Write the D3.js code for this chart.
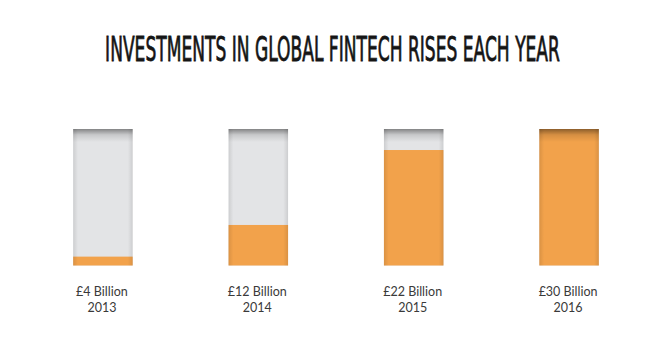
<!DOCTYPE html>
<html>
<head>
<meta charset="utf-8">
<script src="https://cdn.jsdelivr.net/npm/d3@7"></script>
<style>
  html, body { margin: 0; padding: 0; background: #ffffff; }
  svg { display: block; }
</style>
</head>
<body>
<svg id="chart" width="650" height="345"></svg>
<script>
// ---- data ----
const years = ["2013", "2014", "2015", "2016"];
const amounts = ["£4 Billion", "£12 Billion", "£22 Billion", "£30 Billion"];
const investmentBillions = [4, 12, 22, 30];
// visual fill level of each container (percent) (pictogram, not to scale)
const fillPercent = [6.5, 29.7, 84.6, 100];
const titleText = "INVESTMENTS IN GLOBAL FINTECH RISES EACH YEAR";

const svg = d3.select("#chart");
const W = 650, H = 345;

const x = d3.scaleBand().domain(years).range([25, 647]).paddingInner(0.617).paddingOuter(0.31);
const y = d3.scaleLinear().domain([0, 100]).range([265.5, 129]);

const defs = svg.append("defs");
const topShade = defs.append("linearGradient").attr("id", "topShade")
  .attr("x1", 0).attr("y1", 0).attr("x2", 0).attr("y2", 1);
topShade.append("stop").attr("offset", 0).attr("stop-color", "#000").attr("stop-opacity", 0.42);
topShade.append("stop").attr("offset", 0.45).attr("stop-color", "#000").attr("stop-opacity", 0.12);
topShade.append("stop").attr("offset", 1).attr("stop-color", "#000").attr("stop-opacity", 0);

const sideShade = defs.append("linearGradient").attr("id", "sideShade")
  .attr("x1", 0).attr("y1", 0).attr("x2", 1).attr("y2", 0);
sideShade.append("stop").attr("offset", 0).attr("stop-color", "#000").attr("stop-opacity", 0.10);
sideShade.append("stop").attr("offset", 0.08).attr("stop-color", "#000").attr("stop-opacity", 0);
sideShade.append("stop").attr("offset", 0.92).attr("stop-color", "#000").attr("stop-opacity", 0);
sideShade.append("stop").attr("offset", 1).attr("stop-color", "#000").attr("stop-opacity", 0.10);

// title (natural width measured, then narrowed horizontally to fit 455px)
const titleG = svg.append("g");
const title = titleG.append("text")
  .attr("x", 0).attr("y", 0)
  .attr("text-anchor", "middle")
  .attr("font-family", "'Liberation Sans Narrow', 'DejaVu Sans Condensed', sans-serif")
  .attr("font-size", 34)
  .attr("fill", "#151515")
  .attr("stroke", "#151515")
  .attr("stroke-width", 0.8)
  .text(titleText);
const natural = title.node().getComputedTextLength();
const sx = 455 / natural;
titleG.attr("transform", `translate(332.5,61) scale(${sx},1)`);

const g = svg.append("g");
const bars = g.selectAll("g.bar").data(years).join("g").attr("class", "bar");

// container (grey)
bars.append("rect")
  .attr("x", d => x(d)).attr("width", x.bandwidth())
  .attr("y", y(100)).attr("height", y(0) - y(100))
  .attr("fill", "#e3e4e6");

// orange fill
bars.append("rect")
  .attr("x", d => x(d)).attr("width", x.bandwidth())
  .attr("y", (d, i) => y(fillPercent[i]))
  .attr("height", (d, i) => y(0) - y(fillPercent[i]))
  .attr("fill", "#f2a24b");

// side shading
bars.append("rect")
  .attr("x", d => x(d)).attr("width", x.bandwidth())
  .attr("y", y(100)).attr("height", y(0) - y(100))
  .attr("fill", "url(#sideShade)");

// top shadow
bars.append("rect")
  .attr("x", d => x(d)).attr("width", x.bandwidth())
  .attr("y", y(100)).attr("height", 13)
  .attr("fill", "url(#topShade)");

// labels
const labels = g.selectAll("text.lbl").data(years).join("text")
  .attr("class", "lbl")
  .attr("text-anchor", "middle")
  .attr("font-family", "Lato, 'Open Sans', sans-serif")
  .attr("font-size", 12.5)
  .attr("fill", "#3a3a3a");
labels.append("tspan")
  .attr("x", d => x(d) + x.bandwidth() / 2 - 1)
  .attr("y", 296)
  .text((d, i) => amounts[i]);
labels.append("tspan")
  .attr("x", d => x(d) + x.bandwidth() / 2 - 1)
  .attr("y", 312)
  .text(d => d);
</script>
</body>
</html>
